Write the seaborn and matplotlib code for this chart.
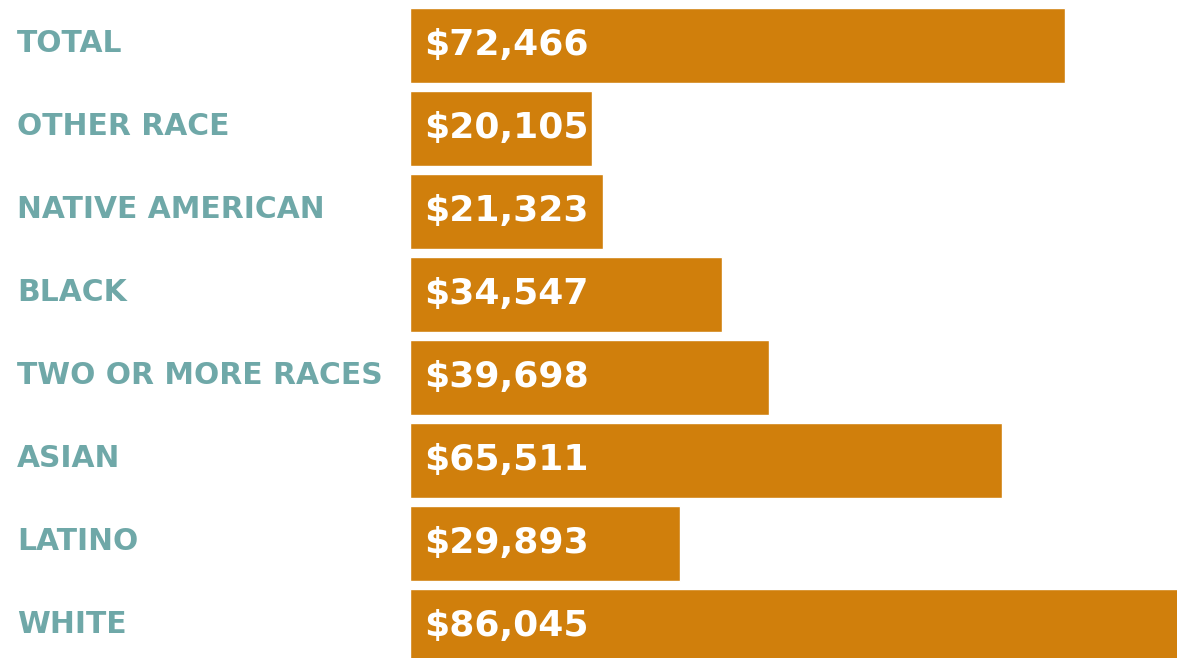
import matplotlib
matplotlib.use('Agg')
import matplotlib.pyplot as plt
import matplotlib.transforms as mtransforms
import seaborn as sns

# data
categories = ['TOTAL', 'OTHER RACE', 'NATIVE AMERICAN', 'BLACK',
              'TWO OR MORE RACES', 'ASIAN', 'LATINO', 'WHITE']
income = [72466, 20105, 21323, 34547, 39698, 65511, 29893, 86045]
value_labels = ['$72,466', '$20,105', '$21,323', '$34,547',
                '$39,698', '$65,511', '$29,893', '$86,045']

BAR_COLOR = '#D07F0C'
LABEL_COLOR = '#6FA8A8'

sns.set_style('white')
plt.rcParams['font.family'] = ['DejaVu Sans']

fig = plt.figure(figsize=(11.77, 6.58), dpi=100)
ax = fig.add_axes([410 / 1177, 0, 1 - 410 / 1177, 1])

sns.barplot(x=income, y=categories, orient='h', color=BAR_COLOR,
            width=0.904, saturation=1, ax=ax)

ax.set_xlim(0, 84850)
ax.set_ylim(7.38, -0.548)
ax.axis('off')

# category labels on the left, in figure x / data y
trans = mtransforms.blended_transform_factory(fig.transFigure, ax.transData)
for i, cat in enumerate(categories):
    ax.text(17 / 1177, i - 0.02, cat, transform=trans, ha='left', va='center',
            fontsize=21.4, fontweight='bold', color=LABEL_COLOR, clip_on=False)

# value labels inside the bars
for i, lab in enumerate(value_labels):
    ax.annotate(lab, (0, i), xytext=(14, 0), textcoords='offset pixels',
                ha='left', va='center', fontsize=26, fontweight='bold',
                color='white')

fig.savefig('out.png', dpi=100)
